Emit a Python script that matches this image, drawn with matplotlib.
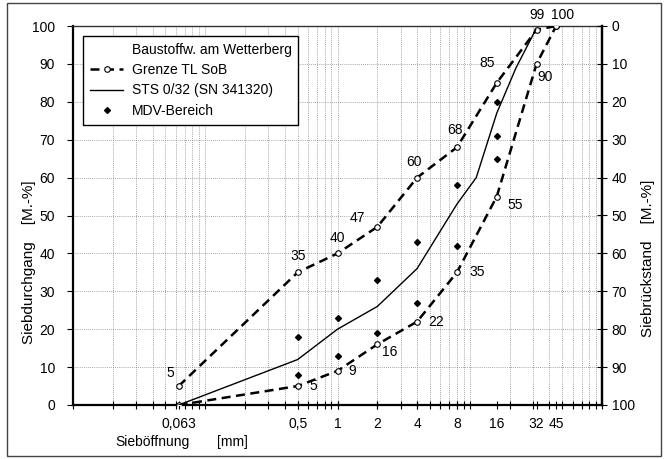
import matplotlib
matplotlib.use("Agg")
import matplotlib.pyplot as plt
from matplotlib.lines import Line2D
from matplotlib.patches import Rectangle
from matplotlib.ticker import FixedLocator, LogLocator, NullFormatter, FixedFormatter
import numpy as np

plt.rcParams['font.family'] = ['Liberation Sans', 'DejaVu Sans']

# ---- data ----
sieves_grenze = [0.063, 0.5, 1, 2, 4, 8, 16, 32, 45]
grenze_upper = [5, 35, 40, 47, 60, 68, 85, 99, 100]
grenze_lower = [0, 5, 9, 16, 22, 35, 55, 90, 100]
upper_labels = ["5", "35", "40", "47", "60", "68", "85", "99", "100"]
lower_labels = ["", "5", "9", "16", "22", "35", "55", "90", ""]

sieves_sts = [0.063, 0.5, 1, 2, 4, 8, 11.2, 16, 22.4, 31.5]
sts_values = [0, 12, 20, 26, 36, 53, 60, 77, 89, 99]

mdv_sieves = [0.5, 0.5, 1, 1, 2, 2, 4, 4, 8, 8, 16, 16, 16]
mdv_values = [18, 8, 23, 13, 33, 19, 43, 27, 58, 42, 80, 71, 65]

xtick_vals = [0.063, 0.5, 1, 2, 4, 8, 16, 32, 45]
xtick_labels = ["0,063", "0,5", "1", "2", "4", "8", "16", "32", "45"]

# label offsets (pixels)
upper_off = [(-8, 13), (0, 16), (0, 15), (-20, 9), (-3, 16), (-2, 17), (-10, 20), (0, 15), (6, 11)]
lower_off = [(0, 0), (16, 0), (15, 0), (12, -8), (19, 0), (20, 0), (18, -8), (9, -13), (0, 0)]

W, H = 664, 459
fig = plt.figure(figsize=(W / 100, H / 100), dpi=100)
ax = fig.add_axes([73 / W, 1 - 405 / H, (602 - 73) / W, (405 - 26) / H])

ax.set_xscale('log')
ax.set_xlim(0.01, 100)
ax.set_ylim(0, 100)

dash = (0, (3.6, 2.2))
ax.plot(sieves_grenze, grenze_upper, color='black', lw=1.8, linestyle=dash,
        marker='o', ms=4, mfc='white', mec='black', mew=0.8, zorder=3)
ax.plot(sieves_grenze, grenze_lower, color='black', lw=1.8, linestyle=dash,
        marker='o', ms=4, mfc='white', mec='black', mew=0.8, zorder=3)
ax.plot(sieves_sts, sts_values, color='black', lw=1.0, zorder=3)
ax.plot(mdv_sieves, mdv_values, linestyle='none', marker='D', ms=3,
        color='black', zorder=4)

for x, y, t, (dx, dy) in zip(sieves_grenze, grenze_upper, upper_labels, upper_off):
    if t:
        ax.annotate(t, (x, y), xytext=(dx, dy), textcoords='offset pixels',
                    ha='center', va='center', fontsize=10)
for x, y, t, (dx, dy) in zip(sieves_grenze, grenze_lower, lower_labels, lower_off):
    if t:
        ax.annotate(t, (x, y), xytext=(dx, dy), textcoords='offset pixels',
                    ha='center', va='center', fontsize=10)

# x ticks
ax.xaxis.set_major_locator(FixedLocator(xtick_vals))
ax.xaxis.set_major_formatter(FixedFormatter(xtick_labels))
ax.xaxis.set_minor_locator(LogLocator(base=10, subs=np.arange(1, 10), numticks=20))
ax.xaxis.set_minor_formatter(NullFormatter())
ax.xaxis.remove_overlapping_locs = False
ax.tick_params(axis='x', which='both', direction='inout', length=6, width=0.8,
               labelsize=10, pad=6)

ax.set_yticks(np.arange(0, 101, 10))
ax.tick_params(axis='y', which='major', direction='out', length=4, width=0.8,
               labelsize=10, pad=9)

ax.grid(True, axis='x', which='minor', color='#888888', lw=0.6, linestyle=(0, (1, 1.5)))
ax.grid(True, axis='y', which='major', color='#888888', lw=0.6, linestyle=(0, (1, 1.5)))

for s in ['left', 'right', 'bottom']:
    ax.spines[s].set_linewidth(1.6)
ax.spines['top'].set_linewidth(1.0)
ax.spines['top'].set_color('#333333')

ax2 = ax.twinx()
ax2.set_ylim(100, 0)
ax2.set_yticks(np.arange(0, 101, 10))
ax2.tick_params(axis='y', direction='inout', length=7, width=0.8, labelsize=10, pad=3.5)
ax2.spines['right'].set_linewidth(1.6)
for s in ['left', 'top', 'bottom']:
    ax2.spines[s].set_visible(False)

fig.text(29 / W, 1 - 262 / H, "Siebdurchgang    [M.-%]", fontsize=11,
         rotation=90, ha='center', va='center')
fig.text(648 / W, 1 - 258 / H, "Siebrückstand    [M.-%]", fontsize=11,
         rotation=90, ha='center', va='center')

fig.text(115 / W, 1 - 442 / H, "Sieböffnung", fontsize=10, ha='left', va='center')
fig.text(217 / W, 1 - 442 / H, "[mm]", fontsize=10, ha='left', va='center')

handles = [
    Line2D([], [], color='none'),
    Line2D([], [], color='black', lw=1.8, linestyle=dash, marker='o', ms=4,
           mfc='white', mec='black', mew=0.8),
    Line2D([], [], color='black', lw=1.0),
    Line2D([], [], linestyle='none', marker='D', ms=3, color='black'),
]
labels = ["Baustoffw. am Wetterberg", "Grenze TL SoB", "STS 0/32 (SN 341320)", "MDV-Bereich"]
leg = ax.legend(handles, labels, loc='upper left', bbox_to_anchor=(10 / 529, 369 / 379),
                borderaxespad=0, fontsize=10, frameon=True, fancybox=False,
                edgecolor='black', framealpha=1, handlelength=2.4, handletextpad=0.6,
                labelspacing=0.45, borderpad=0.5)
leg.get_frame().set_linewidth(1.0)

fig.patches.append(Rectangle((7 / W, 3 / H), (661 - 7) / W, (456 - 3) / H,
                             transform=fig.transFigure, fill=False,
                             edgecolor='#444444', lw=1.0))

fig.savefig("out.png", dpi=100)
